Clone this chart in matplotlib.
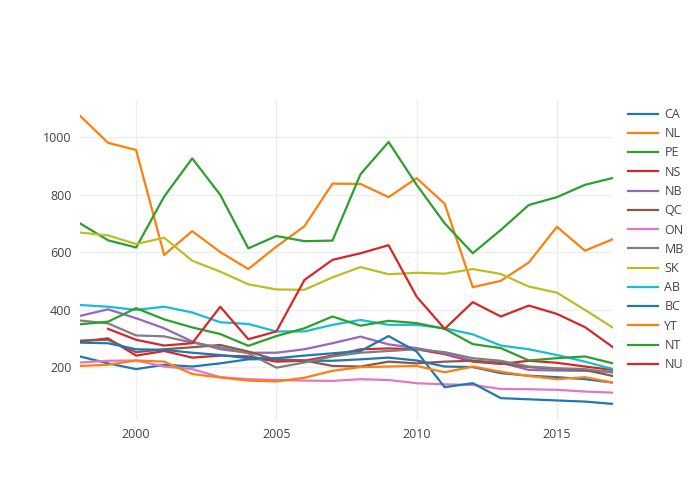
import matplotlib
matplotlib.use("Agg")
import matplotlib.pyplot as plt

plt.rcParams['font.family'] = ['Open Sans', 'DejaVu Sans']

years = list(range(1998, 2018))

CA = [237, 213, 193, 208, 202, 213, 227, 228, 222, 222, 227, 233, 223, 202, 200, 179, 170, 165, 158, 146]
NL = [1074, 980, 955, 590, 673, 600, 541, 619, 690, 838, 837, 791, 857, 768, 478, 500, 564, 688, 605, 645]
PE = [700, 641, 616, 793, 926, 799, 613, 656, 638, 640, 871, 983, 834, 700, 596, 677, 764, 791, 834, 858]
NS = [289, 300, 240, 256, 233, 240, 237, 219, 222, 240, 262, 265, 262, 245, 219, 211, 222, 215, 202, 190]
NB = [378, 401, 370, 335, 289, 262, 250, 250, 262, 283, 306, 279, 266, 248, 222, 216, 190, 188, 187, 184]
QC = [292, 295, 252, 262, 269, 277, 254, 225, 223, 204, 202, 219, 213, 219, 222, 213, 200, 194, 190, 169]
ON = [216, 222, 223, 202, 193, 165, 158, 155, 153, 152, 158, 155, 144, 140, 138, 124, 123, 121, 115, 111]
MB = [362, 352, 310, 307, 285, 269, 248, 198, 216, 237, 250, 256, 262, 252, 231, 222, 202, 196, 193, 181]
SK = [668, 658, 628, 650, 570, 532, 488, 470, 469, 512, 548, 523, 528, 525, 541, 524, 480, 459, 399, 337]
AB = [416, 410, 399, 410, 390, 356, 350, 324, 324, 347, 364, 347, 347, 335, 314, 275, 262, 242, 219, 193]
BC = [285, 283, 262, 260, 250, 242, 231, 231, 240, 248, 256, 308, 254, 130, 144, 92, 88, 84, 80, 72]
YT = [204, 208, 223, 219, 176, 164, 153, 150, 163, 187, 200, 202, 204, 182, 202, 184, 169, 158, 165, 146]
NT = [349, 358, 405, 366, 338, 315, 274, 308, 335, 376, 344, 361, 353, 333, 280, 266, 223, 231, 237, 213]
NU_years = list(range(1999, 2018))
NU = [333, 295, 275, 283, 410, 297, 324, 503, 573, 596, 624, 445, 333, 426, 376, 414, 385, 339, 269]

series = [
    ("CA", years, CA, "#1f77b4"),
    ("NL", years, NL, "#ff7f0e"),
    ("PE", years, PE, "#2ca02c"),
    ("NS", years, NS, "#d62728"),
    ("NB", years, NB, "#9467bd"),
    ("QC", years, QC, "#8c564b"),
    ("ON", years, ON, "#e377c2"),
    ("MB", years, MB, "#7f7f7f"),
    ("SK", years, SK, "#bcbd22"),
    ("AB", years, AB, "#17becf"),
    ("BC", years, BC, "#1f77b4"),
    ("YT", years, YT, "#ff7f0e"),
    ("NT", years, NT, "#2ca02c"),
    ("NU", NU_years, NU, "#d62728"),
]

fig = plt.figure(figsize=(7, 5), dpi=100)
ax = fig.add_axes([80/700, 80/500, 533/700, 320/500])

for name, xs, ys, c in series:
    ax.plot(xs, ys, color=c, lw=1.6, label=name, solid_joinstyle='round')

ax.set_xlim(1998, 2017)
ax.set_ylim(16, 1129)
ax.set_xticks([2000, 2005, 2010, 2015])
ax.set_yticks([200, 400, 600, 800, 1000])
ax.grid(True, color="#eeeeee", lw=1)
ax.set_axisbelow(True)
for s in ax.spines.values():
    s.set_visible(False)
ax.tick_params(length=0, labelsize=9, colors="#444444", pad=6)

leg = ax.legend(loc='upper left', bbox_to_anchor=(628/700, 1 - 108/500),
                bbox_transform=fig.transFigure, frameon=False,
                fontsize=9, handlelength=2.4, handletextpad=0.5,
                labelspacing=0.5, borderaxespad=0, borderpad=0)
for t in leg.get_texts():
    t.set_color("#444444")

fig.savefig("out.png", dpi=100)
